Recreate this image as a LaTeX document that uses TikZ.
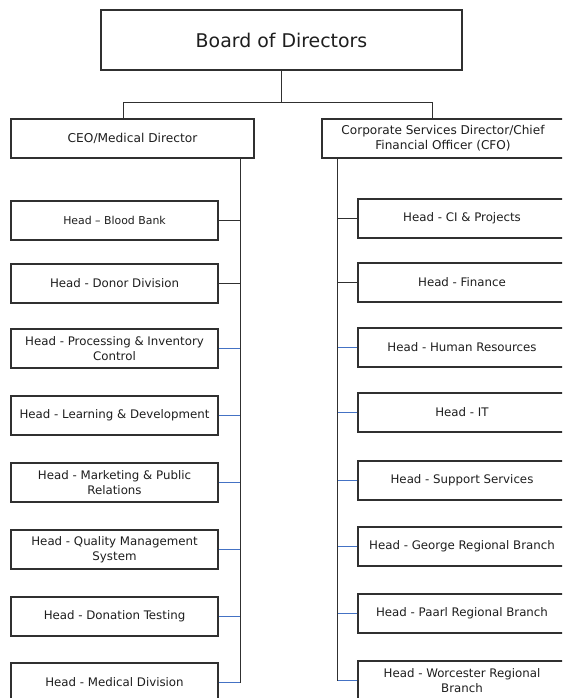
\documentclass[tikz,border=0pt]{standalone}
\usepackage{fontspec}
\setmainfont{DejaVu Sans}
\definecolor{linec}{HTML}{303030}
\definecolor{textc}{HTML}{1E1E1E}
\definecolor{bluec}{HTML}{4472C4}
\begin{document}
\begin{tikzpicture}[x=1pt,y=-1pt,
  box/.style={draw=linec, line width=1.2pt, fill=white, inner sep=0pt, align=center, text=textc, font=\fontsize{11.8}{15}\selectfont},
  lbox/.style={box, minimum width=207pt, minimum height=39pt},
  rbox/.style={box, minimum width=208pt, minimum height=39pt},
  conn/.style={draw=linec, line width=1pt},
  bconn/.style={draw=bluec, line width=1pt}]
\useasboundingbox (0,0) rectangle (562,698);
\clip (0,0) rectangle (562,698);

\node[box, minimum width=361pt, minimum height=60pt, font=\fontsize{18.9}{22}\selectfont] (board) at (281.5,40) {Board of Directors};
\node[box, minimum width=243pt, minimum height=39pt, font=\fontsize{12.2}{15}\selectfont] (ceo) at (132.5,138.5) {CEO/Medical Director};
\node[box, minimum width=242pt, minimum height=39pt, font=\fontsize{12.1}{15}\selectfont] (cfo) at (443,138.5) {Corporate Services Director/Chief\\Financial Officer (CFO)};

\node[lbox, font=\fontsize{10.9}{15}\selectfont] (l1) at (114.5,220.5) {Head – Blood Bank};
\node[lbox] (l2) at (114.5,283.5) {Head - Donor Division};
\node[lbox] (l3) at (114.5,348.5) {Head - Processing \& Inventory\\Control};
\node[lbox] (l4) at (114.5,415.5) {Head - Learning \& Development};
\node[lbox] (l5) at (114.5,482.5) {Head - Marketing \& Public\\Relations};
\node[lbox] (l6) at (114.5,549.5) {Head - Quality Management\\System};
\node[lbox] (l7) at (114.5,616.5) {Head - Donation Testing};
\node[lbox] (l8) at (114.5,682.5) {Head - Medical Division};

\node[rbox] (r1) at (462,218.5) {Head - CI \& Projects};
\node[rbox] (r2) at (462,282.5) {Head - Finance};
\node[rbox] (r3) at (462,347.5) {Head - Human Resources};
\node[rbox] (r4) at (462,412.5) {Head - IT};
\node[rbox] (r5) at (462,480.5) {Head - Support Services};
\node[rbox] (r6) at (462,546.5) {Head - George Regional Branch};
\node[rbox] (r7) at (462,613.5) {Head - Paarl Regional Branch};
\node[rbox] (r8) at (462,680.5) {Head - Worcester Regional\\Branch};

\coordinate (busL) at (123,103);
\coordinate (busR) at (432,103);
\coordinate (trL) at (240,0);
\coordinate (trR) at (337,0);

\draw[conn] (board.south) -- (board.south |- busL);
\draw[conn] (busL |- ceo.north) -- (busL) -- (busR) -- (busR |- cfo.north);

\draw[conn] (l1.east) -- (l1.east -| trL);
\draw[conn] (l2.east) -- (l2.east -| trL);
\foreach \n in {l3,l4,l5,l6,l7,l8} \draw[bconn] (\n.east) -- (\n.east -| trL);

\draw[conn] (r1.west) -- (r1.west -| trR);
\draw[conn] (r2.west) -- (r2.west -| trR);
\foreach \n in {r3,r4,r5,r6,r7,r8} \draw[bconn] (\n.west) -- (\n.west -| trR);

\draw[conn] (trL |- ceo.south) -- (trL |- l8.east);
\draw[conn] (trR |- cfo.south) -- (trR |- r8.west);
\end{tikzpicture}
\end{document}
